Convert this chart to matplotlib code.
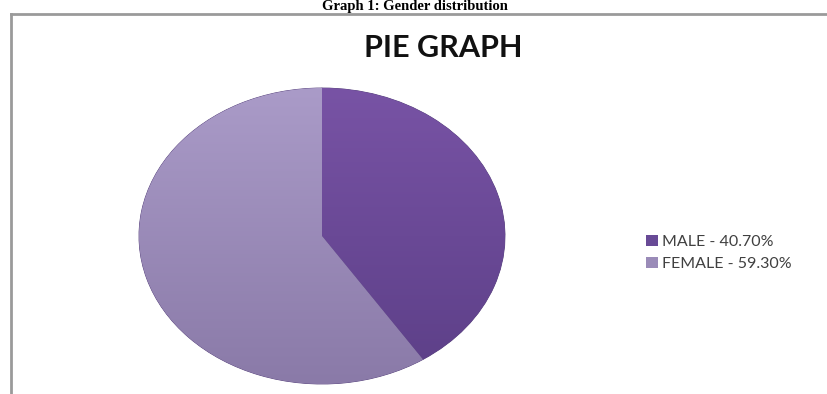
import matplotlib
matplotlib.use('Agg')
import matplotlib.pyplot as plt
import numpy as np
from matplotlib.lines import Line2D
from matplotlib.patches import Patch
from matplotlib.colors import LinearSegmentedColormap

# data
categories = ['MALE', 'FEMALE']
shares = [40.70, 59.30]
# colours (top / bottom of the gradient)
top_colors = ['#7853a5', '#aa9bc8']
bottom_colors = ['#5c3f87', '#8a7aa8']
mid_colors = ['#684a96', '#9a8bb8']

W, H = 827, 394
fig = plt.figure(figsize=(W / 100, H / 100), dpi=100)

# caption above the box
fig.text(415 / W, 1, 'Graph 1: Gender distribution', ha='center', va='top',
         fontsize=10.5, fontweight='bold', family='Liberation Serif')

# box border (left + top)
fig.add_artist(Line2D([11 / W, 11 / W], [0, 1 - 14 / H], color='#9a9a9a', lw=2,
                      transform=fig.transFigure))
fig.add_artist(Line2D([11 / W, 1], [1 - 14 / H, 1 - 14 / H], color='#9a9a9a', lw=2,
                      transform=fig.transFigure))

fig.text(443 / W, 1 - 48 / H, 'PIE GRAPH', ha='center', va='center',
         fontsize=22, fontweight='bold', family='Lato', color='#111111')

# pie axes, stretched into an ellipse
cx, cy, rx, ry = 322, 236, 183, 148
ax = fig.add_axes([(cx - rx) / W, (H - cy - ry) / H, 2 * rx / W, 2 * ry / H])
wedges, _ = ax.pie(shares, startangle=90, counterclock=False, colors=mid_colors,
                   wedgeprops=dict(edgecolor='#55407a', linewidth=0.6))
ax.set_aspect('auto')
ax.axis('off')

grad = np.linspace(0, 1, 256).reshape(-1, 1)
for w, c_top, c_bot in zip(wedges, top_colors, bottom_colors):
    cmap = LinearSegmentedColormap.from_list('g', [c_top, c_bot])
    im = ax.imshow(grad, cmap=cmap, extent=(-1, 1, -1, 1), aspect='auto', zorder=w.get_zorder() + 0.1)
    im.set_clip_path(w)
ax.set_xlim(-1, 1)
ax.set_ylim(-1, 1)

handles = [Patch(facecolor=c, edgecolor='none') for c in mid_colors]
labels = [f'{c} - {v:.2f}%' for c, v in zip(categories, shares)]
fig.legend(handles, labels, loc='center left', bbox_to_anchor=(632 / W, 1 - 253 / H),
           frameon=False, handlelength=0.7, handleheight=0.7, handletextpad=0.3,
           labelspacing=0.45, prop=dict(family='Lato', size=11.5), labelcolor='#404040')

fig.savefig('out.png', dpi=100)
